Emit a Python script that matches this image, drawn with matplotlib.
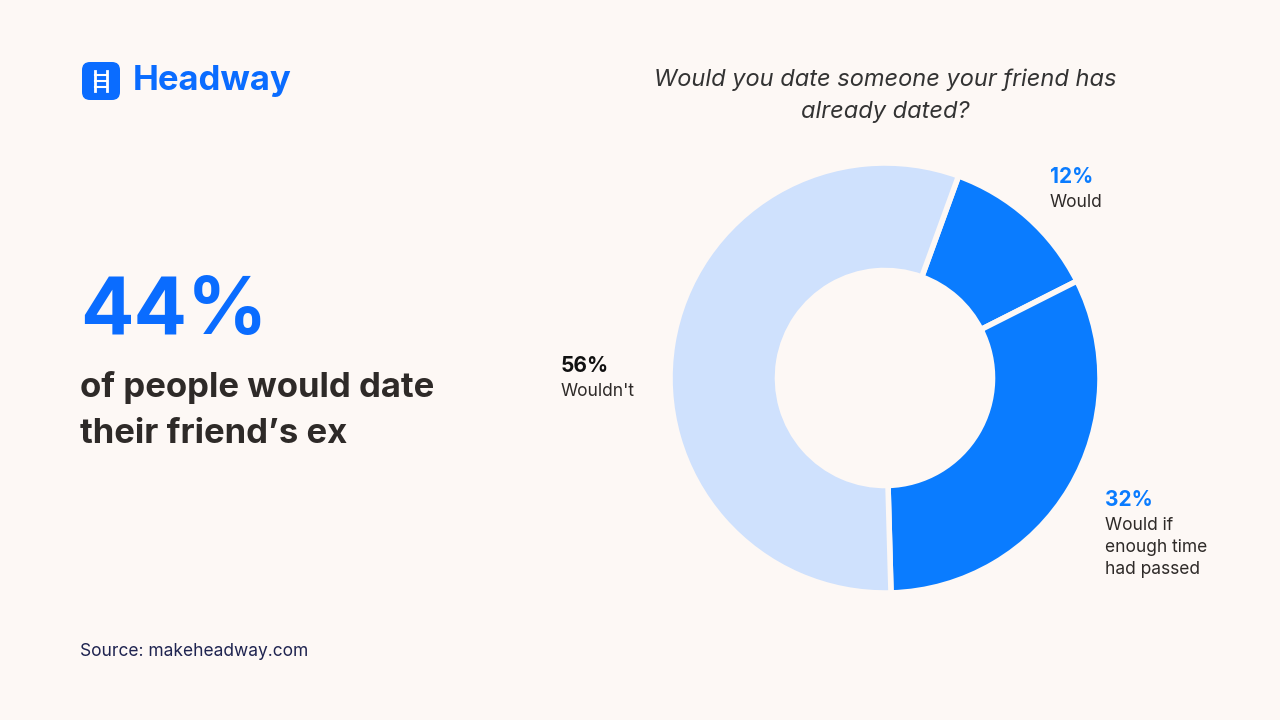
import matplotlib
matplotlib.use("Agg")
import matplotlib.pyplot as plt
from matplotlib.patches import FancyBboxPatch

labels = ["Would", "Would if\nenough time\nhad passed", "Wouldn't"]
values = [12, 32, 56]
pct_labels = ["12%", "32%", "56%"]
colors = ["#0A7CFF", "#0A7CFF", "#CFE1FD"]
label_colors = ["#0A7CFF", "#0A7CFF", "#111111"]

bg = "#FDF8F5"
fig = plt.figure(figsize=(12.8, 7.2), dpi=100, facecolor=bg)
plt.rcParams['font.family'] = ['Inter', 'DejaVu Sans']

ax = fig.add_axes([(885-215)/1280, 1-(378+215)/720, 430/1280, 430/720])
ax.set_facecolor(bg)
ax.pie(values, colors=colors, startangle=70, counterclock=False,
       wedgeprops=dict(width=0.5, edgecolor=bg, linewidth=4))
ax.set_aspect('equal'); ax.set_xlim(-1, 1); ax.set_ylim(-1, 1); ax.axis('off')

lax = fig.add_axes([0, 0, 1, 1]); lax.set_xlim(0, 1280); lax.set_ylim(720, 0); lax.axis('off')
lax.add_patch(FancyBboxPatch((82, 62), 38, 38, boxstyle="round,pad=0,rounding_size=8",
                             fc="#0A6CFF", ec="none"))
for x in (95, 107):
    lax.plot([x, x], [71, 91], color="white", lw=2)
for y in (75, 81, 87):
    lax.plot([95, 107], [y, y], color="white", lw=1.5)
fig.text(133/1280, 1-81/720, "Headway", fontsize=25, fontweight='bold', color="#0A6CFF", va='center')

fig.text(80/1280, 1-313/720, "44%", fontsize=57, fontweight='bold', color="#0A6CFF", va='center')
fig.text(80/1280, 1-388/720, "of people would date", fontsize=25, fontweight='bold', color="#2E2A28", va='center')
fig.text(80/1280, 1-434/720, "their friend’s ex", fontsize=25, fontweight='bold', color="#2E2A28", va='center')
fig.text(80/1280, 1-652/720, "Source: makeheadway.com", fontsize=12.5, color="#1F2450", va='center')

fig.text(885/1280, 1-96/720, "Would you date someone your friend has\nalready dated?", fontsize=17,
         style='italic', color="#333333", ha='center', va='center', linespacing=1.6)

pos = [(1050, 177), (1105, 500), (561, 366)]
for (x, y), p, l, c in zip(pos, pct_labels, labels, label_colors):
    fig.text(x/1280, 1-y/720, p, fontsize=15, fontweight='bold', color=c, va='center')
    fig.text(x/1280, 1-(y+17)/720, l, fontsize=12.5, color="#2E2A28", va='top', linespacing=1.4)

fig.savefig("out.png", dpi=100, facecolor=bg)
